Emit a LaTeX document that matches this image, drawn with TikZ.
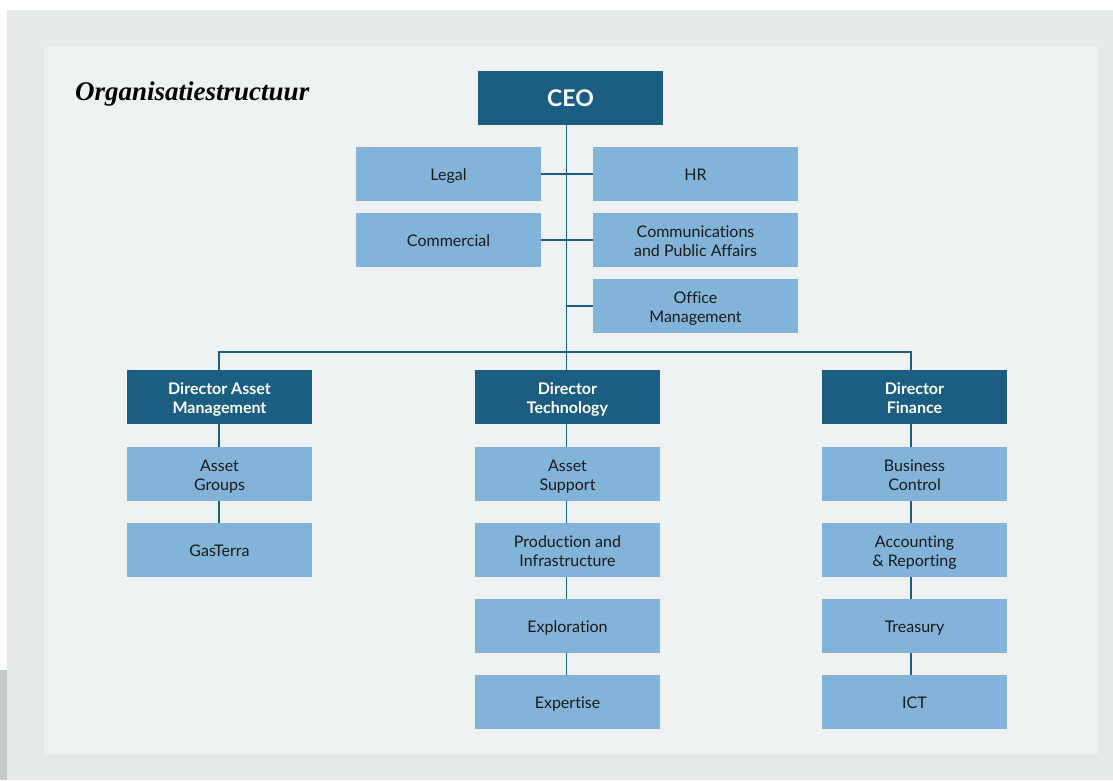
\documentclass[tikz,border=0pt]{standalone}
\usepackage{fontspec}
\setmainfont{Lato}[Ligatures=NoCommon]
\newfontfamily\titlefont{Liberation Serif}
\definecolor{dblue}{HTML}{1B5E82}
\definecolor{lblue}{HTML}{81B4D8}
\definecolor{outerbg}{HTML}{E6EAE9}
\definecolor{innerbg}{HTML}{EEF2F3}
\definecolor{stripbg}{HTML}{C6CACA}
\definecolor{txt}{HTML}{1A1A1A}
\begin{document}
\begin{tikzpicture}[x=1pt,y=-1pt,
  unit/.style={rectangle, fill=lblue, minimum width=185pt, minimum height=54pt, inner sep=0pt, align=center, text=txt, font=\fontsize{16}{19}\selectfont, text height=13pt, text depth=0pt},
  two/.style={text height=33pt, text depth=0pt},
  wideunit/.style={unit, minimum width=205pt},
  director/.style={unit, fill=dblue, text=white, font=\fontsize{16}{19}\selectfont\bfseries},
  ceobox/.style={director, font=\fontsize{23}{26}\selectfont\bfseries, text height=17pt},
  link/.style={draw=dblue, line width=1.4pt}]
\useasboundingbox (0,0) rectangle (1113,780);
\fill[white] (0,0) rectangle (1113,780);
\fill[outerbg] (7,10) rectangle (1113,780);
\fill[stripbg] (0,670) rectangle (7,780);
\fill[innerbg] (44,47) rectangle (1098,754);
\node[anchor=base west, inner sep=0pt, font=\titlefont\fontsize{27}{30}\selectfont\bfseries\itshape] (title) at (75,100) {Organisatiestructuur};
% top
\node[ceobox] (ceo) at (570.5,98) {CEO};
\node[unit] (legal) at (448.5,174) {Legal};
\node[wideunit] (hr) at (695.5,174) {HR};
\node[unit] (comm) at (448.5,240) {Commercial};
\node[wideunit, two] (cpa) at (695.5,240) {Communications\\and Public Affairs};
\node[wideunit, two] (office) at (695.5,306) {Office\\Management};
% directors
\node[director, two] (dam) at (219.5,397) {Director Asset\\Management};
\node[director, two] (dt) at (567.5,397) {Director\\Technology};
\node[director, two] (dfi) at (914.5,397) {Director\\Finance};
% left column
\node[unit, two] (ag) at (219.5,474) {Asset\\Groups};
\node[unit] (gt) at (219.5,550) {GasTerra};
% middle column
\node[unit, two] (as) at (567.5,474) {Asset\\Support};
\node[unit, two] (pi) at (567.5,550) {Production and\\Infrastructure};
\node[unit] (ex) at (567.5,626) {Exploration};
\node[unit] (xp) at (567.5,702) {Expertise};
% right column
\node[unit, two] (bc) at (914.5,474) {Business\\Control};
\node[unit, two] (ar) at (914.5,550) {Accounting\\\& Reporting};
\node[unit] (tr) at (914.5,626) {Treasury};
\node[unit] (ict) at (914.5,702) {ICT};
% connector guides
\coordinate (bar) at (566.5,352);
\coordinate (lx) at (219,0);
\coordinate (rx) at (911,0);
% connectors
\draw[link] (ceo.south -| bar) -- (dt.north -| bar);
\draw[link] (legal.east) -- (hr.west);
\draw[link] (comm.east) -- (cpa.west);
\draw[link] (bar |- office.west) -- (office.west);
\draw[link] (dam.north -| lx) |- (bar) -| (dfi.north -| rx);
\draw[link] (dam.south -| lx) -- (ag.north -| lx);
\draw[link] (ag.south -| lx) -- (gt.north -| lx);
\draw[link] (dt.south -| bar) -- (as.north -| bar);
\draw[link] (as.south -| bar) -- (pi.north -| bar);
\draw[link] (pi.south -| bar) -- (ex.north -| bar);
\draw[link] (ex.south -| bar) -- (xp.north -| bar);
\draw[link] (dfi.south -| rx) -- (bc.north -| rx);
\draw[link] (bc.south -| rx) -- (ar.north -| rx);
\draw[link] (ar.south -| rx) -- (tr.north -| rx);
\draw[link] (tr.south -| rx) -- (ict.north -| rx);
\end{tikzpicture}
\end{document}
